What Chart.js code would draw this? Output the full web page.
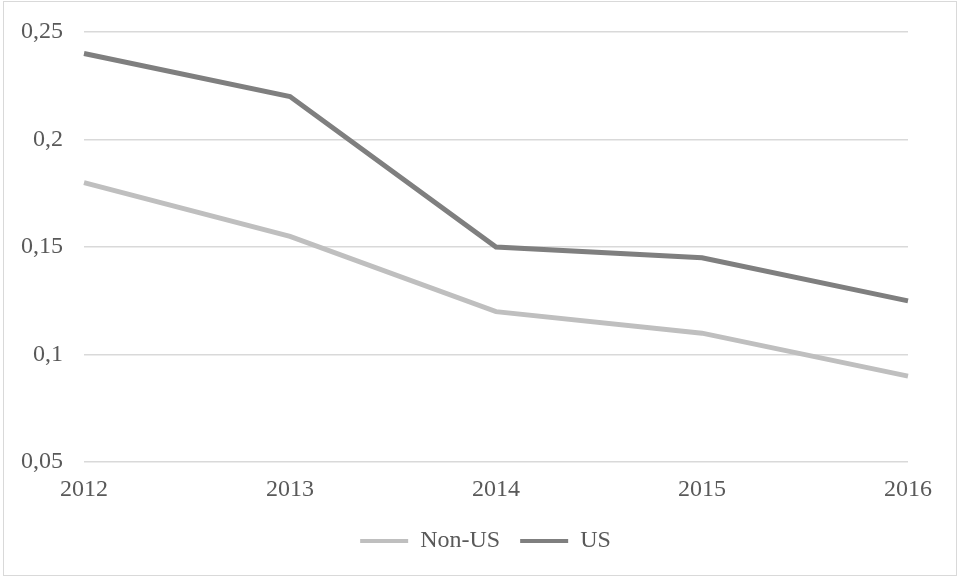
<!DOCTYPE html>
<html>
<head>
<meta charset="utf-8">
<script src="https://cdn.jsdelivr.net/npm/chart.js@4"></script>
<style>
  body { margin: 0; background: #fff; }
  #frame { position: absolute; left: 3px; top: 1px; width: 952px; height: 573px; border: 1px solid #d9d9d9; }
</style>
</head>
<body>
<div id="frame"><canvas id="trend"></canvas></div>
<script>
const years = ['2012', '2013', '2014', '2015', '2016'];
const nonUS = [0.18, 0.155, 0.12, 0.11, 0.09];
const us = [0.24, 0.22, 0.15, 0.145, 0.125];

const txt = '#595959';
Chart.defaults.font.family = '"Liberation Serif", "Times New Roman", serif';
Chart.defaults.font.size = 24;
Chart.defaults.color = txt;

const dataTrend = {
  labels: years,
  datasets: [
    { label: 'Non-US', data: nonUS, borderColor: '#bfbfbf', backgroundColor: '#bfbfbf', borderWidth: 5 },
    { label: 'US', data: us, borderColor: '#7f7f7f', backgroundColor: '#7f7f7f', borderWidth: 5 }
  ]
};

const configTrend = {
  type: 'line',
  data: dataTrend,
  options: {
    responsive: true,
    maintainAspectRatio: false,
    animation: false,
    elements: { point: { radius: 0 }, line: { tension: 0 } },
    layout: { padding: { left: 16, right: 5, top: 30, bottom: 12 } },
    scales: {
      x: {
        offset: false,
        afterFit: axis => { axis.paddingRight = 48; },
        grid: { display: false },
        border: { display: false },
        ticks: { padding: 5, maxRotation: 0 }
      },
      y: {
        min: 0.05,
        max: 0.25,
        afterFit: axis => { axis.width = 64; axis.paddingTop = 0; axis.paddingBottom = 0; },
        grid: { color: '#d9d9d9', lineWidth: 1.5, drawTicks: false },
        border: { display: false },
        ticks: {
          stepSize: 0.05,
          padding: 21,
          callback: v => String(Number(v.toFixed(2))).replace('.', ',')
        }
      }
    },
    plugins: {
      legend: {
        position: 'bottom',
        labels: {
          boxWidth: 48,
          boxHeight: 4,
          padding: 20,
          generateLabels: chart => Chart.defaults.plugins.legend.labels.generateLabels(chart)
            .map(item => Object.assign(item, { lineWidth: 0 }))
        }
      },
      tooltip: { enabled: false }
    }
  }
};

let trendGraph = new Chart(document.getElementById('trend'), configTrend);
</script>
</body>
</html>
